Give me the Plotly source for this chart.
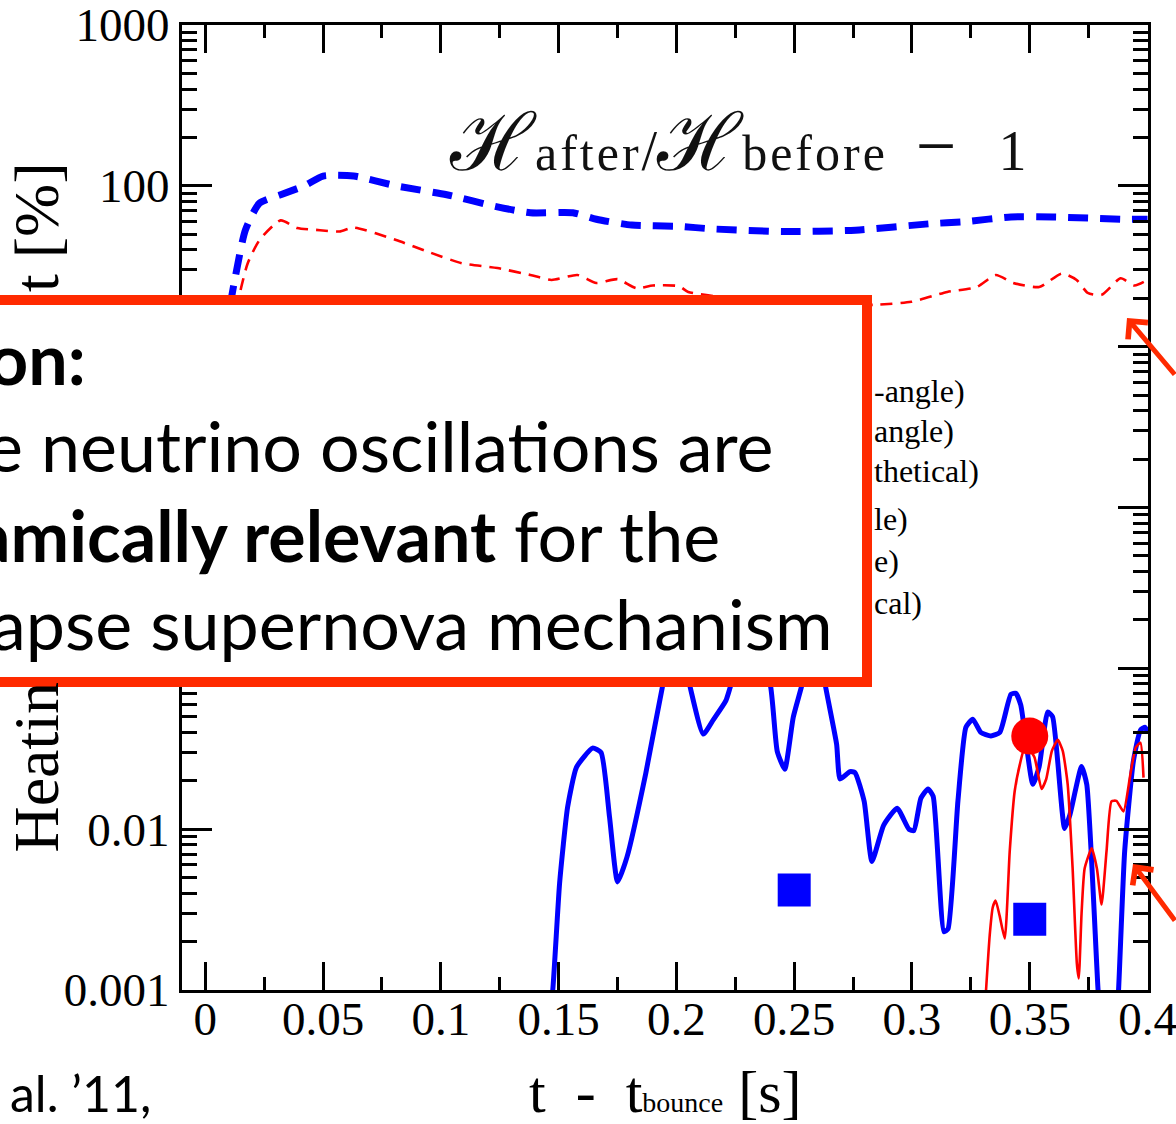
import plotly.graph_objects as go

# ---------------- data ----------------
# thick blue dashed curve
t_blue_dash = [0.0105, 0.0127, 0.017, 0.023, 0.032, 0.042, 0.050, 0.063, 0.081, 0.1025,
               0.124, 0.138, 0.156, 0.166, 0.181, 0.201, 0.215, 0.245, 0.276, 0.307,
               0.323, 0.342, 0.360, 0.390, 0.400]
h_blue_dash = [18, 27, 53, 78, 88, 100, 115, 115, 100, 88,
               74, 68, 68, 62, 57, 56, 54, 52, 53, 58,
               60, 64, 64, 62, 62]

# thin red dashed curve
t_red_dash = [0.0135, 0.0148, 0.018, 0.023, 0.032, 0.039, 0.0487, 0.057, 0.063, 0.081,
              0.095, 0.109, 0.124, 0.138, 0.147, 0.158, 0.166, 0.175, 0.183, 0.190,
              0.201, 0.205, 0.230, 0.255, 0.284, 0.2997, 0.315, 0.3275, 0.3356, 0.343,
              0.354, 0.3636, 0.3699, 0.3746, 0.3805, 0.3886, 0.3945, 0.400]
h_red_dash = [17, 21.9, 33, 46, 61, 54.7, 53, 52, 55, 46,
              38.7, 33, 30.8, 27.9, 26, 27.9, 24.9, 26.3, 23.1, 24,
              23.8, 21.9, 19.5, 18, 18.2, 19.0, 21.9, 23.5, 27.9, 24.9,
              23.5, 28.5, 26, 21.6, 21, 26.6, 24, 26]

# thick blue solid curve
t_blue = [0.1465, 0.1475, 0.1504, 0.1538, 0.1576, 0.1644, 0.168, 0.1716, 0.175, 0.179,
          0.187, 0.194, 0.200, 0.2055, 0.2114, 0.2157, 0.221, 0.2233, 0.232, 0.2398,
          0.2428, 0.246, 0.2496, 0.2534, 0.259, 0.2631, 0.268, 0.2695, 0.2737, 0.2758,
          0.2797, 0.283, 0.288, 0.2937, 0.2987, 0.3008, 0.3038, 0.3068, 0.309, 0.3136,
          0.3153, 0.3195, 0.3229, 0.3258, 0.3292, 0.3335, 0.3373, 0.342, 0.3441, 0.3462,
          0.3513, 0.354, 0.3576, 0.3597, 0.3648, 0.367, 0.372, 0.3742, 0.379, 0.381,
          0.386, 0.3877, 0.3903, 0.394, 0.397, 0.399, 0.400]
h_blue = [0.0008, 0.001, 0.0046, 0.0137, 0.0243, 0.0319, 0.030, 0.0119, 0.0047, 0.0067,
          0.0223, 0.076, 0.18, 0.08, 0.039, 0.048, 0.063, 0.08, 0.16, 0.08,
          0.0305, 0.0236, 0.0497, 0.08, 0.2, 0.08, 0.0338, 0.0205, 0.0228, 0.0225,
          0.0149, 0.0063, 0.0106, 0.0135, 0.0100, 0.0098, 0.0156, 0.0178, 0.016, 0.0023,
          0.0024, 0.0149, 0.043, 0.0483, 0.040, 0.038, 0.040, 0.069, 0.070, 0.059,
          0.019, 0.0245, 0.0535, 0.050, 0.0101, 0.0122, 0.0245, 0.019, 0.0010, 0.0004,
          0.0004, 0.001, 0.0073, 0.0265, 0.0413, 0.043, 0.040]

# thin red solid curve
t_red = [0.3305, 0.333, 0.3343, 0.3355, 0.3372, 0.3394, 0.3415, 0.3436, 0.3458, 0.3483,
         0.352, 0.355, 0.357, 0.3594, 0.3619, 0.364, 0.3661, 0.3682, 0.370, 0.3708,
         0.372, 0.3733, 0.3763, 0.3785, 0.3805, 0.3826, 0.3847, 0.3868, 0.3898, 0.3928,
         0.395, 0.397, 0.3983]
h_red = [0.0006, 0.00219, 0.00327, 0.0036, 0.0029, 0.00209, 0.0073, 0.0172, 0.0253, 0.0337,
         0.028, 0.0178, 0.0205, 0.0307, 0.0359, 0.0307, 0.019, 0.0057, 0.00146, 0.00118,
         0.003, 0.0057, 0.0076, 0.0057, 0.0034, 0.0073, 0.0149, 0.015, 0.0129, 0.0223,
         0.0322, 0.0345, 0.0209]

# single points
t_red_dot = [0.35]
h_red_dot = [0.0379]
t_blue_sq = [0.25, 0.35]
h_blue_sq = [0.00418, 0.00275]

# axis ticks
x_ticks = [0, 0.05, 0.1, 0.15, 0.2, 0.25, 0.3, 0.35, 0.4]
x_ticklabels = ["0", "0.05", "0.1", "0.15", "0.2", "0.25", "0.3", "0.35", "0.4"]
y_ticks = [0.001, 0.01, 0.1, 1, 10, 100, 1000]
y_ticklabels = ["0.001", "0.01", "0.1", "1", "10", "100", "1000"]
x_minor = [0.025 + 0.05 * k for k in range(8)]
y_minor = [m * 10.0 ** e for e in range(-3, 3) for m in range(2, 10)]

# legend text fragments visible beside the box
legend_fragments = ["-angle)", "angle)", "thetical)", "le)", "e)", "cal)"]

# ---------------- layout helpers ----------------
W, H = 1176, 1124
L, R, T, B = 182, 28, 25, 134
PW, PH = W - L - R, H - T - B


def px_x(p):
    return (p - L) / PW


def px_y(p):
    return (H - B - p) / PH


RED = "#ff2a00"
SERIF = "Liberation Serif"
SANS = "Lato"

fig = go.Figure()
fig.add_trace(go.Scatter(x=t_blue_dash, y=h_blue_dash, mode="lines", hoverinfo="skip",
                         line=dict(color="#0000ff", width=7, dash="20px,12px",
                                   shape="spline", smoothing=0.6)))
fig.add_trace(go.Scatter(x=t_red_dash, y=h_red_dash, mode="lines", hoverinfo="skip",
                         line=dict(color="#ff0000", width=2.6, dash="12px,8px",
                                   shape="spline", smoothing=0.6)))
fig.add_trace(go.Scatter(x=t_blue, y=h_blue, mode="lines", hoverinfo="skip",
                         line=dict(color="#0000ff", width=5, shape="spline", smoothing=0.5)))
fig.add_trace(go.Scatter(x=t_red, y=h_red, mode="lines", hoverinfo="skip",
                         line=dict(color="#ff0000", width=2.6, shape="spline", smoothing=0.5)))
fig.add_trace(go.Scatter(x=t_red_dot, y=h_red_dot, mode="markers", hoverinfo="skip",
                         marker=dict(symbol="circle", size=37, color="#ff0000", line=dict(width=0))))
fig.add_trace(go.Scatter(x=t_blue_sq, y=h_blue_sq, mode="markers", hoverinfo="skip",
                         marker=dict(symbol="square", size=33, color="#0000ff", line=dict(width=0))))

axis_common = dict(
    showgrid=False, zeroline=False, showline=True, linecolor="black", linewidth=3,
    mirror="ticks", ticks="inside", tickcolor="black", tickwidth=2.5,
    tickfont=dict(family=SERIF, size=47, color="black"), tickmode="array",
    ticklabeloverflow="allow",
)

fig.update_xaxes(range=[-0.0099, 0.4002], tickvals=x_ticks, ticktext=x_ticklabels,
                 ticklen=28, ticklabelstandoff=-14,
                 minor=dict(tickvals=x_minor, ticks="inside", ticklen=13, tickwidth=2.5,
                            tickcolor="black", showgrid=False),
                 **axis_common)
fig.update_yaxes(type="log", range=[-3, 3], tickvals=y_ticks, ticktext=y_ticklabels,
                 ticklen=30, ticklabelstandoff=0,
                 minor=dict(tickvals=y_minor, ticks="inside", ticklen=15, tickwidth=2.5,
                            tickcolor="black", showgrid=False),
                 **axis_common)

# white callout box with red border (drawn over the plot)
fig.add_shape(type="rect", xref="paper", yref="paper", layer="above",
              x0=px_x(-20), x1=px_x(867), y0=px_y(300), y1=px_y(682),
              line=dict(color=RED, width=10), fillcolor="white")

ann = []
# curve title
sub_style = "font-size:50px;letter-spacing:3px"
ann.append(dict(xref="paper", yref="paper", x=px_x(447), y=px_y(189), xanchor="left",
                yanchor="bottom", showarrow=False,
                text=f"<span style='font-size:80px'>ℋ</span><span style='{sub_style}'>after</span>"
                     f"/<span style='font-size:80px'>ℋ</span><span style='{sub_style}'>before</span>"
                     "&nbsp;&nbsp;<span style='font-size:72px'>−</span>&nbsp;&nbsp;&nbsp;1",
                font=dict(family=SERIF, size=56, color="#111111")))
# legend fragments
for frag, base in zip(legend_fragments, [402, 442, 482, 530, 572, 614]):
    ann.append(dict(xref="paper", yref="paper", x=px_x(872), y=px_y(base - 10.8),
                    xanchor="left", yanchor="middle", showarrow=False, text=frag,
                    font=dict(family=SERIF, size=32, color="black")))
# y-axis title fragments
ann.append(dict(xref="paper", yref="paper", x=px_x(36), y=px_y(855), xanchor="center",
                yanchor="bottom", showarrow=False, textangle=-90, text="Heatin",
                font=dict(family=SERIF, size=64, color="black")))
ann.append(dict(xref="paper", yref="paper", x=px_x(36), y=px_y(160), xanchor="center",
                yanchor="top", showarrow=False, textangle=-90, text="t [%]",
                font=dict(family=SERIF, size=64, color="black")))
# x-axis title
ann.append(dict(xref="paper", yref="paper", x=px_x(527), y=px_y(1112 - 0.3375 * 60),
                xanchor="left", yanchor="middle", showarrow=False,
                text="t&nbsp;&nbsp;-&nbsp;&nbsp;t<span style='font-size:28px'>bounce</span>&nbsp;[s]",
                font=dict(family=SERIF, size=60, color="black")))
# bottom-left citation fragment
ann.append(dict(xref="paper", yref="paper", x=px_x(8), y=px_y(1112 - 0.387 * 50),
                xanchor="left", yanchor="middle", showarrow=False, text="al. ’11,",
                font=dict(family=SANS, size=50, color="black")))
# callout text (left part cut by the slide edge)
box_lines = [("<b>on:</b>", 88, 385),
             ("e neutrino oscillations are", 775, 472),
             ("<b>amically relevant</b> for the", 722, 562),
             ("apse supernova mechanism", 835, 650)]
for txt, right, base in box_lines:
    ann.append(dict(xref="paper", yref="paper", x=px_x(right), y=px_y(base - 0.387 * 70),
                    xanchor="right", yanchor="middle", showarrow=False, text=txt,
                    font=dict(family=SANS, size=70, color="black")))
# red arrows coming from the right edge
for tip in [(1127, 318), (1133, 864)]:
    ann.append(dict(xref="paper", yref="paper", x=px_x(tip[0]), y=px_y(tip[1]),
                    ax=75, ay=58, showarrow=True, arrowhead=4, arrowsize=1.0,
                    arrowwidth=5, arrowcolor=RED, text="", standoff=0))

fig.update_layout(
    width=W, height=H, margin=dict(l=L, r=R, t=T, b=B, autoexpand=False),
    paper_bgcolor="white", plot_bgcolor="white", showlegend=False,
    annotations=ann,
)

fig.write_html("out.html", config={"displayModeBar": False},
               post_script="document.body.style.margin='0px';")
